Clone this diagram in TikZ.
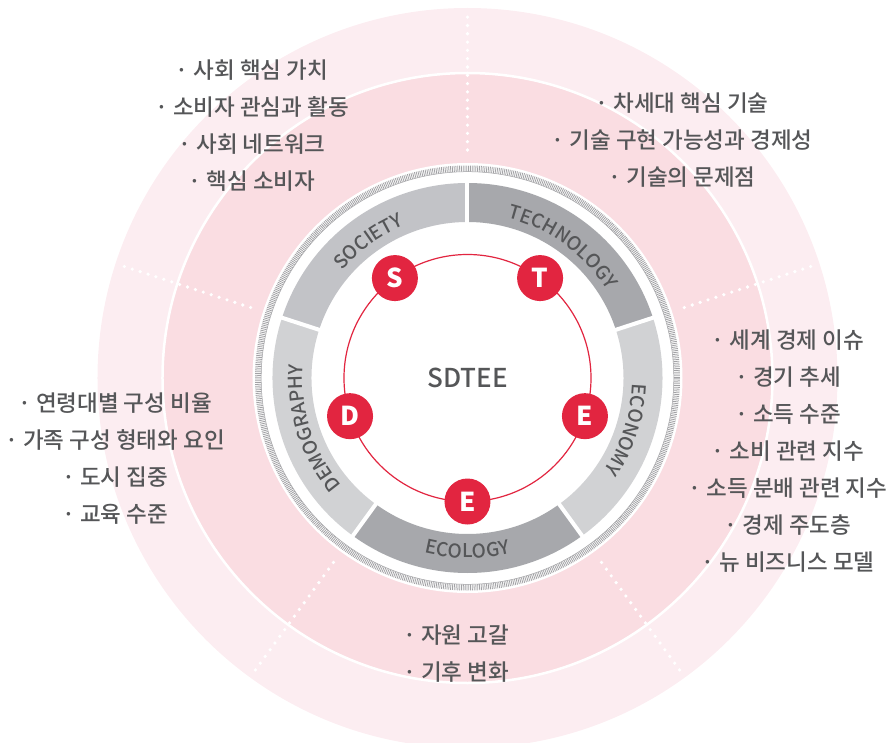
\documentclass[tikz,border=0pt]{standalone}
\usepackage{fontspec}
\setmainfont{Noto Sans CJK KR}
\newfontfamily\medfont{Noto Sans CJK KR Medium}
\usetikzlibrary{decorations.text}
\definecolor{pinkin}{RGB}{250,221,226}
\definecolor{pinkout}{RGB}{252,237,241}
\definecolor{segA}{RGB}{194,195,199}
\definecolor{segB}{RGB}{167,168,172}
\definecolor{segC}{RGB}{209,210,212}
\definecolor{txt}{RGB}{85,86,88}
\definecolor{sred}{RGB}{226,37,64}
\definecolor{hatchgrey}{RGB}{162,162,165}
\newcommand\seglabfont{\medfont\fontsize{19}{19}\selectfont\color{txt}}
\begin{document}
\begin{tikzpicture}[x=1pt,y=1pt,
  redc/.style={circle, fill=sred, minimum size=46pt, inner sep=0pt, text=white, font=\fontsize{26}{26}\selectfont\bfseries},
  listtext/.style={align=center, text=txt, font=\medfont\fontsize{22.5}{37}\selectfont},
  dotline/.style={white, line width=3.6pt, line cap=round, dash pattern=on 0pt off 8.3pt},
  gapline/.style={white, line width=4pt},
  seglab/.style={decorate, decoration={text along path, text align=center, text={|\seglabfont|#1}}}
]
\useasboundingbox (-467.5,-364) rectangle (424.5,378);
% background bands
\fill[pinkout] (0,0) circle (370);
\fill[pinkin] (0,0) circle (304);
\draw[white, line width=2.5pt] (0,0) circle (305);
% dotted radial lines
\foreach \a in {90,18,-54,-126,162}{
  \draw[dotline] (\a:228) -- (\a:368);
}
% white inner disk
\fill[white] (0,0) circle (215);
% hatched ring
\draw[hatchgrey, line width=6pt, dash pattern=on 0.8pt off 1pt] (0,0) circle (209.5);
\draw[hatchgrey, line width=0.5pt] (0,0) circle (206.3);
% grey segments
\fill[segA] (162:195) arc[start angle=162,end angle=90,radius=195] -- (90:156) arc[start angle=90,end angle=162,radius=156] -- cycle;
\fill[segB] (90:195) arc[start angle=90,end angle=18,radius=195] -- (18:156) arc[start angle=18,end angle=90,radius=156] -- cycle;
\fill[segC] (18:195) arc[start angle=18,end angle=-54,radius=195] -- (-54:156) arc[start angle=-54,end angle=18,radius=156] -- cycle;
\fill[segB] (-54:195) arc[start angle=-54,end angle=-126,radius=195] -- (-126:156) arc[start angle=-126,end angle=-54,radius=156] -- cycle;
\fill[segC] (-126:195) arc[start angle=-126,end angle=-198,radius=195] -- (-198:156) arc[start angle=-198,end angle=-126,radius=156] -- cycle;
\foreach \a in {90,18,-54,-126,162}{
  \draw[gapline] (\a:150) -- (\a:200);
}
% segment labels
\path[seglab=SOCIETY] (162:165) arc[start angle=162,end angle=90,radius=165];
\path[seglab=TECHNOLOGY] (90:165) arc[start angle=90,end angle=18,radius=165];
\path[seglab=ECONOMY] (18:165) arc[start angle=18,end angle=-54,radius=165];
\path[seglab=ECOLOGY] (-126:180) arc[start angle=-126,end angle=-54,radius=180];
\path[seglab=DEMOGRAPHY] (234:165) arc[start angle=234,end angle=162,radius=165];
% red ring and letters
\draw[sred, line width=1.2pt] (0,0) circle (123.5);
\node[redc] (s) at (126:123.5) {S};
\node[redc] (t) at (54:123.5) {T};
\node[redc] (e1) at (-18:123.5) {E};
\node[redc] (e2) at (-90:123.5) {E};
\node[redc] (d) at (198:123.5) {D};
\node[text=txt, font=\medfont\fontsize{26}{26}\selectfont] (sdtee) at (0,0) {SDTEE};
% lists
\node[listtext] (soc) at (-215.5,252.5) {· 사회 핵심 가치\\· 소비자 관심과 활동\\· 사회 네트워크\\· 핵심 소비자};
\node[listtext] (tec) at (214.5,237.5) {· 차세대 핵심 기술\\· 기술 구현 가능성과 경제성\\· 기술의 문제점};
\node[listtext] (eco) at (320.5,-73.5) {· 세계 경제 이슈\\· 경기 추세\\· 소득 수준\\· 소비 관련 지수\\· 소득 분배 관련 지수\\· 경제 주도층\\· 뉴 비즈니스 모델};
\node[listtext] (dem) at (-352.5,-81) {· 연령대별 구성 비율\\· 가족 구성 형태와 요인\\· 도시 집중\\· 교육 수준};
\node[listtext] (ecl) at (-11.5,-276) {· 자원 고갈\\· 기후 변화};
\end{tikzpicture}
\end{document}
